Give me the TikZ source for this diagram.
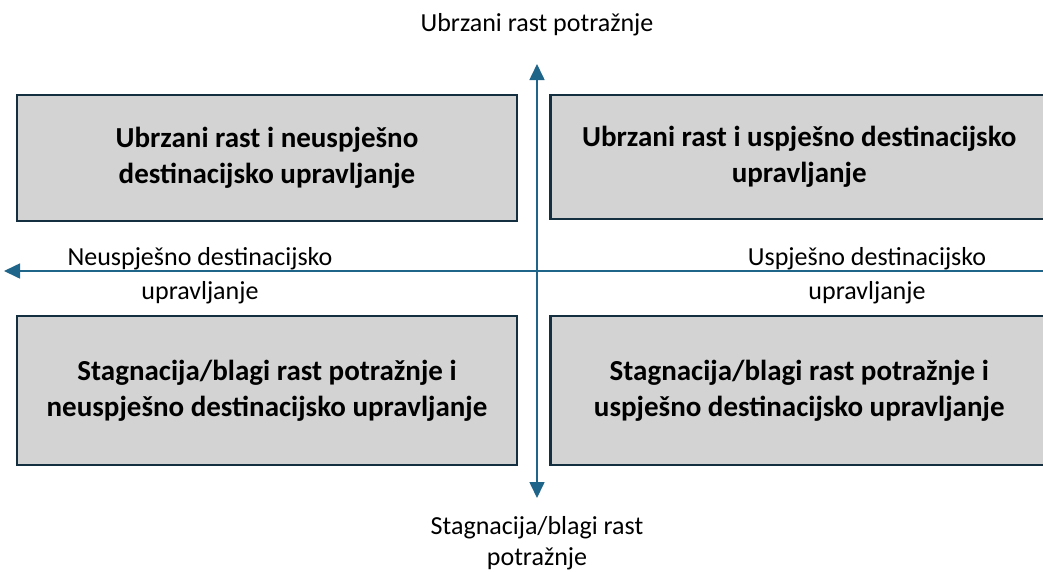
\documentclass[tikz,border=0pt]{standalone}
\usepackage{fontspec}
\setmainfont{Carlito}
\usetikzlibrary{arrows.meta}
\definecolor{boxfill}{HTML}{D3D3D3}
\definecolor{boxline}{HTML}{132F40}
\definecolor{axis}{HTML}{1F6489}
\begin{document}
\begin{tikzpicture}[x=1pt,y=-1pt,
  quad/.style={draw=boxline,line width=2.5pt,fill=boxfill,inner sep=0pt,
    font=\fontsize{29}{36}\selectfont\bfseries,align=center},
  axislabel/.style={font=\fontsize{26}{34}\selectfont,align=center,inner sep=0pt},
  axisline/.style={draw=axis,line width=1.6pt,-{Triangle[width=15pt,length=16pt]}}]
\useasboundingbox (0,0) rectangle (1043,571);
\fill[white] (0,0) rectangle (1043,571);
% boxes
\node[quad,minimum width=500pt,minimum height=126pt] (tl) at (267,158) {Ubrzani rast i neuspješno\\destinacijsko upravljanje};
\node[quad,minimum width=498pt,minimum height=124pt,anchor=west] (tr) at (549,157) {Ubrzani rast i uspješno destinacijsko\\upravljanje};
\node[quad,minimum width=500pt,minimum height=149pt] (bl) at (267,390.5) {Stagnacija/blagi rast potražnje i\\neuspješno destinacijsko upravljanje};
\node[quad,minimum width=498pt,minimum height=149pt,anchor=west] (br) at (549,390.5) {Stagnacija/blagi rast potražnje i\\uspješno destinacijsko upravljanje};
% axes
\coordinate (vtop) at (537,64);
\coordinate (vbot) at (537,498);
\coordinate (vmid) at (537,271);
\coordinate (hleft) at (4,271);
\coordinate (hright) at (1043,271);
\draw[axisline] (vmid) -- (vtop);
\draw[axisline] (vmid) -- (vbot);
\draw[axisline] (hright) -- (hleft);
% labels
\node[axislabel] (ltop) at (537,25) {Ubrzani rast potražnje};
\node[axislabel,font=\fontsize{26}{31}\selectfont] (lbot) at (537,543) {Stagnacija/blagi rast\\potražnje};
\node[axislabel] (lleft) at (200,276) {Neuspješno destinacijsko\\upravljanje};
\node[axislabel] (lright) at (867,276) {Uspješno destinacijsko\\upravljanje};
\end{tikzpicture}
\end{document}
